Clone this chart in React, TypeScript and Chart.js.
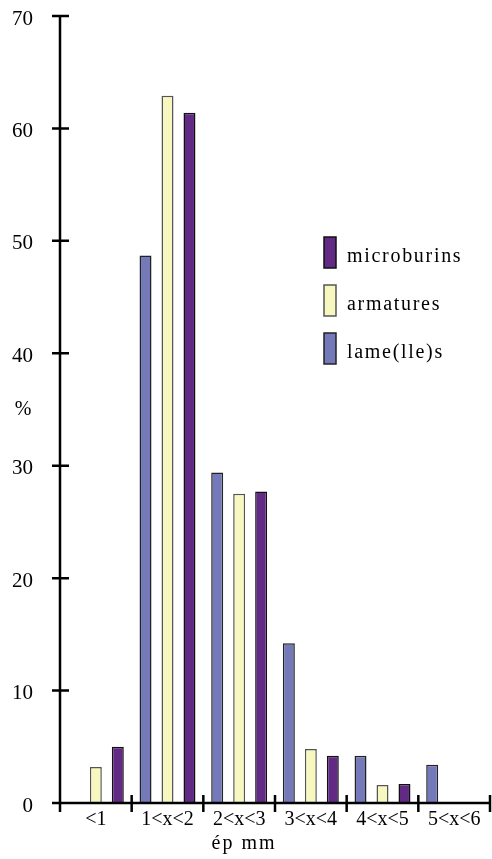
import React, { useEffect, useRef } from "react";
import { Chart, registerables } from "chart.js";

Chart.register(...registerables);

const categories = ["<1", "1<x<2", "2<x<3", "3<x<4", "4<x<5", "5<x<6"];
const lameValues = [0, 48.7, 29.4, 14.2, 4.2, 3.4];
const armaturesValues = [3.2, 62.9, 27.5, 4.8, 1.6, 0];
const microburinsValues = [5.0, 61.4, 27.7, 4.2, 1.7, 0];
const yTickValues = [0, 10, 20, 30, 40, 50, 60, 70];

const FONT = "Liberation Serif";

const axesPlugin = {
  id: "customAxes",
  afterDraw(chart: any) {
    const { ctx, scales } = chart;
    const x = scales.x;
    const y = scales.y;
    const x0 = x.left;
    const y0 = y.getPixelForValue(0);
    const yTop = y.getPixelForValue(70);
    ctx.save();
    ctx.strokeStyle = "#000";
    ctx.lineWidth = 2.5;
    ctx.lineCap = "butt";
    ctx.beginPath();
    ctx.moveTo(x0, yTop);
    ctx.lineTo(x0, y0 + 8);
    ctx.moveTo(x0 - 8, y0);
    ctx.lineTo(x.right, y0);
    yTickValues.forEach((v) => {
      const py = y.getPixelForValue(v);
      ctx.moveTo(x0 - 8, py);
      ctx.lineTo(x0 + 9, py);
    });
    const n = categories.length;
    for (let i = 0; i <= n; i++) {
      const px = x.left + (i * (x.right - x.left)) / n;
      ctx.moveTo(px, y0 - 8);
      ctx.lineTo(px, y0 + 9);
    }
    ctx.stroke();

    ctx.fillStyle = "#000";
    ctx.font = `20px "${FONT}"`;
    ctx.textAlign = "center";
    ctx.textBaseline = "middle";
    ctx.fillText("%", 23, (chart.chartArea.top + chart.chartArea.bottom) / 2);
    (ctx as any).letterSpacing = "2px";
    ctx.fillText("ép mm", (x.left + x.right) / 2 - 31, 844);

    // legend
    const ds = chart.data.datasets.slice().reverse();
    ds.forEach((d: any, i: number) => {
      const bx = 324;
      const by = 237 + i * 48;
      ctx.fillStyle = d.backgroundColor;
      ctx.fillRect(bx, by, 12, 31);
      ctx.strokeStyle = d.borderColor;
      ctx.lineWidth = 1.5;
      ctx.strokeRect(bx, by, 12, 31);
      ctx.fillStyle = "#000";
      ctx.textAlign = "left";
      ctx.textBaseline = "alphabetic";
      ctx.font = `20px "${FONT}"`;
      (ctx as any).letterSpacing = "1.7px";
      ctx.fillText(d.label, 347, by + 25);
    });
    ctx.restore();
  },
};

export default function App() {
  const ref = useRef<HTMLCanvasElement>(null);
  useEffect(() => {
    if (!ref.current) return;
    const chart = new Chart(ref.current, {
      type: "bar",
      data: {
        labels: categories,
        datasets: [
          {
            label: "lame(lle)s",
            data: lameValues,
            backgroundColor: "#747ab9",
            borderColor: "#222",
            borderWidth: 1.5,
          },
          {
            label: "armatures",
            data: armaturesValues,
            backgroundColor: "#f7f7c0",
            borderColor: "#555",
            borderWidth: 1.5,
          },
          {
            label: "microburins",
            data: microburinsValues,
            backgroundColor: "#622a84",
            borderColor: "#111",
            borderWidth: 1.5,
          },
        ],
      },
      options: {
        animation: false,
        responsive: true,
        maintainAspectRatio: false,
        layout: { padding: { top: 16, right: 2, left: 0, bottom: 0 } },
        plugins: { legend: { display: false }, tooltip: { enabled: false } },
        datasets: { bar: { categoryPercentage: 0.92, barPercentage: 0.545 } },
        scales: {
          x: {
            grid: { display: false, drawTicks: false, tickLength: 0 },
            border: { display: false },
            ticks: {
              color: "#000",
              font: { family: FONT, size: 20 },
              padding: 5,
              maxRotation: 0,
              autoSkip: false,
            },
            afterFit: (s: any) => {
              s.height = 56;
              s.paddingLeft = 0;
              s.paddingRight = 0;
            },
          },
          y: {
            min: 0,
            max: 70,
            grid: { display: false, drawTicks: false, tickLength: 0 },
            border: { display: false },
            ticks: {
              stepSize: 10,
              color: "#000",
              font: { family: FONT, size: 21 },
              padding: 27,
              labelOffset: 3,
            },
            afterFit: (s: any) => {
              s.width = 60;
              s.paddingTop = 0;
              s.paddingBottom = 0;
            },
          },
        },
      },
      plugins: [axesPlugin],
    });
    return () => chart.destroy();
  }, []);
  return (
    <div style={{ position: "absolute", left: 0, top: 0, width: 492, height: 859 }}>
      <canvas ref={ref} />
    </div>
  );
}
